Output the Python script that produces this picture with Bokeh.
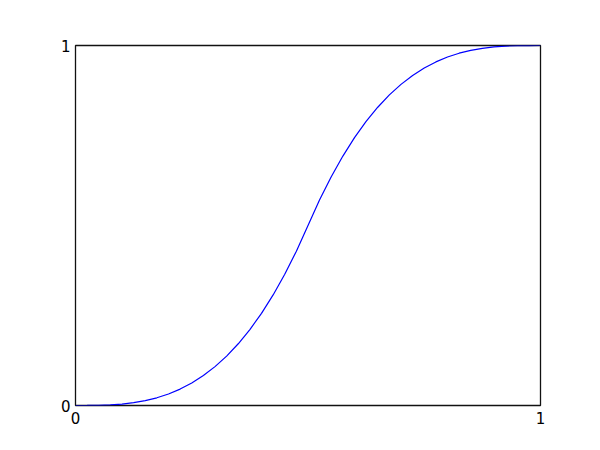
from bokeh.plotting import figure
from bokeh.models import Range1d, FixedTicker
from bokeh.embed import file_html
from bokeh.resources import INLINE

x_vals = [0.0, 0.025, 0.05, 0.075, 0.1, 0.125, 0.15, 0.175, 0.2, 0.225, 0.25,
          0.275, 0.3, 0.325, 0.35, 0.375, 0.4, 0.425, 0.45, 0.475, 0.5,
          0.525, 0.55, 0.575, 0.6, 0.625, 0.65, 0.675, 0.7, 0.725, 0.75,
          0.775, 0.8, 0.825, 0.85, 0.875, 0.9, 0.925, 0.95, 0.975, 1.0]
y_vals = [0.0, 0.0001, 0.0005, 0.0017, 0.004, 0.0078, 0.0135, 0.0214, 0.032, 0.0456, 0.0625,
          0.0832, 0.108, 0.1373, 0.1715, 0.2109, 0.256, 0.3071, 0.3645, 0.4287, 0.5,
          0.5713, 0.6355, 0.6929, 0.744, 0.7891, 0.8285, 0.8627, 0.892, 0.9168, 0.9375,
          0.9544, 0.968, 0.9786, 0.9865, 0.9922, 0.996, 0.9983, 0.9995, 0.9999, 1.0]
x_ticks = [0, 1]
y_ticks = [0, 1]

p = figure(output_backend="svg", toolbar_location=None,
           frame_width=465, frame_height=360,
           min_border_left=75, min_border_right=52,
           min_border_top=45, min_border_bottom=37,
           x_range=Range1d(0, 1), y_range=Range1d(0, 1))

p.line(x_vals, y_vals, line_color="#0000ff", line_width=1.2)

p.xgrid.visible = False
p.ygrid.visible = False
p.outline_line_color = "#111111"
p.outline_line_width = 1.3
p.outline_line_alpha = 1.0

for ax in (p.xaxis[0], p.yaxis[0]):
    ax.axis_line_color = None
    ax.major_tick_in = 0
    ax.major_tick_out = 0
    ax.minor_tick_line_color = None
    ax.major_label_text_font = "DejaVu Sans"
    ax.major_label_text_font_size = "15px"
    ax.major_label_text_color = "#000000"

p.xaxis[0].major_label_standoff = 6
p.yaxis[0].major_label_standoff = 5
p.xaxis[0].ticker = FixedTicker(ticks=x_ticks)
p.yaxis[0].ticker = FixedTicker(ticks=y_ticks)
p.background_fill_color = "white"
p.border_fill_color = "white"

open("out.html", "w").write(file_html(p, INLINE))
